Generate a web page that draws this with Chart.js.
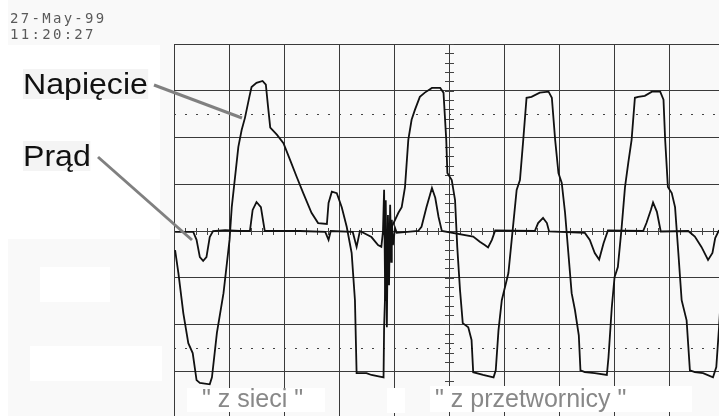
<!DOCTYPE html>
<html>
<head>
<meta charset="utf-8">
<script src="https://cdn.jsdelivr.net/npm/chart.js@4.4.1/dist/chart.umd.min.js"></script>
<style>
html,body{margin:0;padding:0;width:719px;height:416px;overflow:hidden;background:#f9f9f9}
#wrap{position:absolute;left:0;top:0;width:760px;height:430px}
.box{position:absolute;background:#fff}
.txt{position:absolute;white-space:nowrap}
.stamp{left:10px;top:10px;font:14px "DejaVu Sans Mono",monospace;line-height:16px;letter-spacing:2.3px;color:#5a5a5a}
.big{font:30px "Liberation Sans",Arial,sans-serif;line-height:30px;color:#111;transform:scaleX(1.07);transform-origin:left top;background:#f4f4f4}
.note{font:25px "Liberation Sans",Arial,sans-serif;line-height:25px;color:#888}
svg{position:absolute;left:0;top:0}
</style>
</head>
<body>
<div class="box" style="left:0;top:0;width:8px;height:416px"></div>
<div class="box" style="left:8px;top:45px;width:152px;height:194px"></div>
<div id="wrap"><canvas id="scope" width="760" height="430"></canvas></div>

<div class="box" style="left:187px;top:388px;width:138px;height:24px"></div>
<div class="box" style="left:387px;top:388px;width:18px;height:25px"></div>
<div class="box" style="left:430px;top:386px;width:262px;height:26px"></div>
<div class="box" style="left:40px;top:267px;width:70px;height:35px"></div>
<div class="box" style="left:30px;top:346px;width:132px;height:35px"></div>

<div class="txt stamp">27-May-99<br>11:20:27</div>
<div class="txt big" style="left:23px;top:69px">Napięcie</div>
<div class="txt big" style="left:23px;top:141px">Prąd</div>
<div class="txt note" style="left:202px;top:386px">" z sieci "</div>
<div class="txt note" style="left:435px;top:386px">" z przetwornicy "</div>

<svg width="719" height="416">
  <line x1="154" y1="85" x2="242" y2="118" stroke="#808080" stroke-width="3"/>
  <line x1="98" y1="157" x2="192" y2="240" stroke="#808080" stroke-width="3"/>
</svg>

<script>
// time in screen divisions, amplitude in vertical divisions
const voltT = [0.02,0.08,0.17,0.26,0.34,0.41,0.47,0.65,0.69,0.78,
  0.90,1.01,1.05,1.09,1.17,1.23,1.29,1.37,1.41,1.50,
  1.61,1.67,1.71,1.75,1.87,1.99,2.11,2.23,2.35,2.50,
  2.62,2.78,2.81,2.87,2.96,3.05,3.14,3.23,3.29,3.32,
  3.50,3.59,3.81,3.82,3.87,3.96,4.08,4.14,4.20,4.26,
  4.32,4.38,4.47,4.56,4.69,4.84,4.90,4.95,4.97,5.05,
  5.11,5.15,5.20,5.25,5.35,5.41,5.44,5.62,5.81,5.85,
  5.90,5.96,6.08,6.14,6.23,6.29,6.35,6.41,6.50,6.65,
  6.81,6.87,6.93,6.99,7.05,7.11,7.17,7.23,7.29,7.36,
  7.39,7.47,7.65,7.87,7.90,7.96,8.01,8.07,8.14,8.20,
  8.26,8.32,8.38,8.44,8.56,8.69,8.84,8.90,8.93,8.98,
  9.05,9.11,9.17,9.23,9.32,9.38,9.47,9.62,9.80,9.86,
  9.91,9.96]
const voltV = [-0.41,-0.90,-1.76,-2.40,-2.61,-3.19,-3.25,-3.28,-3.13,-2.18,
  -1.33,-0.19,0.51,0.94,1.80,2.16,2.42,2.87,3.08,3.17,
  3.21,3.13,2.66,2.21,2.06,1.88,1.52,1.16,0.81,0.39,
  0.17,0.15,0.60,0.84,0.81,0.51,0.09,-0.47,-1.48,-3.04,
  -3.04,-3.08,-3.13,-2.06,-0.19,0.09,0.39,0.51,0.94,1.95,
  2.38,2.59,2.87,2.96,3.06,3.06,2.96,1.95,1.24,1.09,
  0.66,-0.34,-1.26,-1.97,-2.06,-2.33,-3.02,-3.08,-3.13,-2.98,
  -2.12,-1.48,-0.90,-0.19,0.88,1.09,1.95,2.85,2.87,2.96,
  2.98,2.85,1.95,1.24,1.03,0.39,-0.47,-1.33,-1.69,-2.23,
  -2.98,-3.02,-3.04,-3.08,-2.70,-1.63,-0.99,-0.77,0.09,0.94,
  1.46,1.95,2.85,2.87,2.89,2.98,2.98,2.81,1.95,0.94,
  0.81,0.51,-0.47,-1.48,-1.91,-2.98,-3.02,-3.04,-3.13,-2.91,
  -2.06,-1.05]

const currT = [0.02,0.35,0.41,0.47,0.53,0.59,0.65,0.71,0.93,1.20,
  1.38,1.43,1.50,1.58,1.65,2.29,2.75,2.81,2.85,3.25,
  3.32,3.38,3.59,3.71,3.77,3.80,3.82,3.84,3.85,3.87,
  3.89,3.91,3.93,3.95,3.96,3.98,4.02,4.05,4.44,4.50,
  4.59,4.69,4.75,4.81,4.87,5.44,5.56,5.65,5.71,5.78,
  5.84,6.56,6.62,6.71,6.78,6.82,7.47,7.56,7.65,7.73,
  7.81,7.89,8.53,8.59,8.67,8.71,8.78,8.85,9.35,9.47,
  9.59,9.71,9.79,9.84,9.91]
const currI = [-0.02,-0.02,-0.19,-0.56,-0.64,-0.56,-0.13,0,0.02,0,
  0,0.45,0.62,0.51,0,0,-0.02,-0.19,0,-0.02,
  -0.34,0,-0.13,-0.30,-0.34,0,0.88,-1.48,0.66,-2.06,
  0.34,-1.16,0.56,-0.66,0.24,-0.30,0.06,-0.04,0,0.09,
  0.51,0.92,0.71,0.30,0,-0.12,-0.23,-0.30,-0.35,-0.19,
  0.01,0,0.17,0.28,0.17,-0.01,-0.04,-0.19,-0.47,-0.61,
  -0.26,0.01,0,0.17,0.45,0.61,0.41,-0.01,0,-0.12,
  -0.34,-0.62,-0.47,-0.15,0.02]

const dottedLevels = [2.5, -2.5]
const centreT = 5

function toPoints(xs, ys){
    return xs.map((x,i) => ({x:x, y:ys[i]}))
}

// dotted reference lines + minor ticks on the centre axes
const scopeMarks = {
    id:'scopeMarks',
    beforeDatasetsDraw(chart){
        let ctx = chart.ctx
        let xs = chart.scales.x, ys = chart.scales.y
        let area = chart.chartArea
        ctx.save()
        ctx.strokeStyle = '#444'
        ctx.lineWidth = 1
        ctx.setLineDash([2,9])
        dottedLevels.forEach(v => {
            let py = Math.round(ys.getPixelForValue(v)) + 0.5
            ctx.beginPath()
            ctx.moveTo(area.left, py)
            ctx.lineTo(area.right, py)
            ctx.stroke()
        })
        ctx.setLineDash([])
        let cx = Math.round(xs.getPixelForValue(centreT)) + 0.5
        for (let v = -4; v <= 4.001; v += 0.2) {
            let py = Math.round(ys.getPixelForValue(v)) + 0.5
            ctx.beginPath()
            ctx.moveTo(cx-4.5, py)
            ctx.lineTo(cx+4.5, py)
            ctx.stroke()
        }
        let cy = Math.round(ys.getPixelForValue(0)) + 0.5
        for (let t = 0; t <= 10.001; t += 0.2) {
            let px = Math.round(xs.getPixelForValue(t)) + 0.5
            ctx.beginPath()
            ctx.moveTo(px, cy-3.5)
            ctx.lineTo(px, cy+3.5)
            ctx.stroke()
        }
        ctx.restore()
    }
}

let ctx = document.getElementById('scope').getContext('2d')
let chart = new Chart(ctx, {
    type: 'scatter',
    data: {
        datasets: [
            {
                label: 'Napięcie',
                data: toPoints(voltT, voltV),
                showLine: true,
                borderColor: '#111',
                borderWidth: 1.8,
                pointRadius: 0,
                tension: 0
            },
            {
                label: 'Prąd',
                data: toPoints(currT, currI),
                showLine: true,
                borderColor: '#111',
                borderWidth: 1.8,
                pointRadius: 0,
                tension: 0
            }
        ]
    },
    options: {
        responsive: false,
        animation: false,
        devicePixelRatio: 1,
        layout: { padding: { left: 174, top: 44, right: 36, bottom: 12 } },
        plugins: { legend: { display: false }, tooltip: { enabled: false } },
        scales: {
            x: {
                type: 'linear', min: 0, max: 10,
                ticks: { display: false, stepSize: 1 },
                grid: { color: '#3a3a3a', lineWidth: 1, drawTicks: false },
                border: { color: '#3a3a3a' }
            },
            y: {
                type: 'linear', min: -4, max: 4,
                ticks: { display: false, stepSize: 1 },
                grid: { color: '#3a3a3a', lineWidth: 1, drawTicks: false },
                border: { color: '#3a3a3a' }
            }
        }
    },
    plugins: [scopeMarks]
})
</script>
</body>
</html>
